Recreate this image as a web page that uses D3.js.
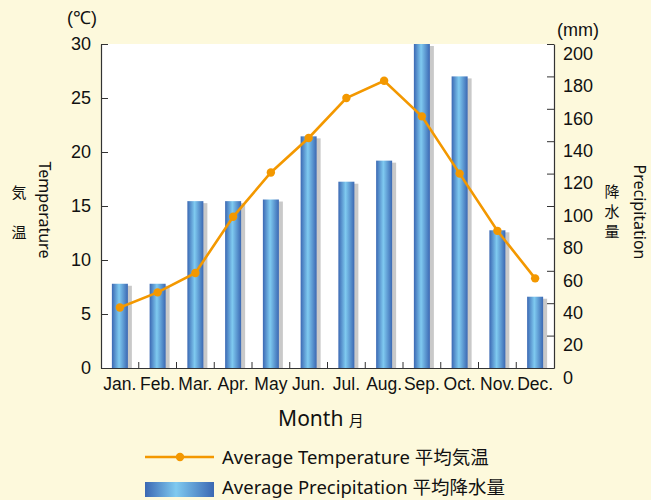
<!DOCTYPE html>
<html>
<head>
<meta charset="utf-8">
<script src="https://cdn.jsdelivr.net/npm/d3@7"></script>
<style>
  body { margin: 0; background: #fdf9dc; }
  svg { display: block; }
</style>
</head>
<body>
<svg id="chart" width="651" height="500"></svg>
<script>
const months = ["Jan.", "Feb.", "Mar.", "Apr.", "May", "Jun.", "Jul.", "Aug.", "Sep.", "Oct.", "Nov.", "Dec."];
const temperature = [5.6, 7.0, 8.8, 14.0, 18.1, 21.3, 25.0, 26.6, 23.3, 18.0, 12.7, 8.3];
const precipitation = [52, 52, 103, 103, 104, 143, 115, 128, 200, 180, 85, 44];
const tempTicks = [0, 5, 10, 15, 20, 25, 30];
const precTicks = [0, 20, 40, 60, 80, 100, 120, 140, 160, 180, 200];

const width = 651, height = 500;
const margin = { top: 44, right: 97, bottom: 132, left: 101 };
const numFont = "'Liberation Sans Narrow', 'Arial Narrow', 'Liberation Sans', sans-serif";
const textFont = "'Noto Sans', 'Noto Sans CJK JP', sans-serif";

const svg = d3.select("#chart");

const x = d3.scaleBand()
  .domain(months)
  .range([margin.left, width - margin.right]);

const yT = d3.scaleLinear().domain([0, 30]).range([height - margin.bottom, margin.top]);
const yP = d3.scaleLinear().domain([0, 200]).range([height - margin.bottom, margin.top]);

// bar gradient
const defs = svg.append("defs");
const grad = defs.append("linearGradient").attr("id", "barGrad")
  .attr("x1", "0%").attr("x2", "100%").attr("y1", "0%").attr("y2", "0%");
grad.append("stop").attr("offset", "0%").attr("stop-color", "#3b68b3");
grad.append("stop").attr("offset", "45%").attr("stop-color", "#7fcaf0");
grad.append("stop").attr("offset", "100%").attr("stop-color", "#3b68b3");

// plot background
svg.append("rect")
  .attr("x", margin.left).attr("y", margin.top)
  .attr("width", width - margin.left - margin.right)
  .attr("height", height - margin.top - margin.bottom)
  .attr("fill", "#fff");

const barW = 16;
const plot = svg.append("g");

plot.selectAll(".shadow")
  .data(precipitation)
  .join("rect")
  .attr("class", "shadow")
  .attr("x", (d, i) => x(months[i]) + x.bandwidth() / 2 - barW / 2 + 4)
  .attr("y", d => Math.max(yP(d) + 2, margin.top + 2))
  .attr("width", barW)
  .attr("height", d => yP(0) - Math.max(yP(d) + 2, margin.top + 2))
  .attr("fill", "#c9c9c9");

plot.selectAll(".bar")
  .data(precipitation)
  .join("rect")
  .attr("class", "bar")
  .attr("x", (d, i) => x(months[i]) + x.bandwidth() / 2 - barW / 2)
  .attr("y", d => yP(d))
  .attr("width", barW)
  .attr("height", d => yP(0) - yP(d))
  .attr("fill", "url(#barGrad)");

// temperature line
const line = d3.line()
  .x((d, i) => x(months[i]) + x.bandwidth() / 2)
  .y(d => yT(d));

plot.append("path")
  .datum(temperature)
  .attr("d", line)
  .attr("fill", "none")
  .attr("stroke", "#f39800")
  .attr("stroke-width", 2.6);

plot.selectAll(".dot")
  .data(temperature)
  .join("circle")
  .attr("cx", (d, i) => x(months[i]) + x.bandwidth() / 2)
  .attr("cy", d => yT(d))
  .attr("r", 4.2)
  .attr("fill", "#f39800");

// axes
const axisColor = "#333";
const yLeft = svg.append("g")
  .attr("transform", `translate(${margin.left},0)`)
  .call(d3.axisLeft(yT).tickValues(tempTicks).tickSizeInner(-7).tickSizeOuter(0).tickPadding(10));
const yRight = svg.append("g")
  .attr("transform", `translate(${width - margin.right},0)`)
  .call(d3.axisRight(yP).tickValues(precTicks).tickSizeInner(-7).tickSizeOuter(0).tickPadding(9));
const xAxis = svg.append("g")
  .attr("transform", `translate(0,${height - margin.bottom})`)
  .call(d3.axisBottom(x).tickSize(0).tickPadding(10));

// inner month separator ticks
svg.append("g").selectAll("line")
  .data(months.slice(1))
  .join("line")
  .attr("x1", d => x(d)).attr("x2", d => x(d))
  .attr("y1", height - margin.bottom).attr("y2", height - margin.bottom - 6)
  .attr("stroke", axisColor);

[yLeft, yRight, xAxis].forEach(g => {
  g.selectAll(".domain").attr("stroke", axisColor).attr("stroke-width", 1.2);
  g.selectAll(".tick line").attr("stroke", axisColor);
  g.selectAll("text").attr("font-family", numFont).attr("font-size", 18).attr("fill", "#111");
});
xAxis.selectAll("text").attr("font-size", 17.5);
yRight.selectAll(".tick text").attr("dy", "0.85em");

// units
svg.append("text").attr("x", 82).attr("y", 24).attr("text-anchor", "middle")
  .attr("font-family", numFont).attr("font-size", 18).attr("fill", "#111").text("(℃)");
svg.append("text").attr("x", 578).attr("y", 36).attr("text-anchor", "middle")
  .attr("font-family", numFont).attr("font-size", 18).attr("fill", "#111").text("(mm)");

// left axis title
svg.append("text")
  .attr("transform", "translate(39,210) rotate(90)")
  .attr("text-anchor", "middle")
  .attr("font-family", textFont).attr("font-size", 16).attr("fill", "#111")
  .text("Temperature");
svg.append("text").attr("x", 19).attr("y", 198).attr("text-anchor", "middle")
  .attr("font-family", textFont).attr("font-size", 15).attr("fill", "#111").text("気");
svg.append("text").attr("x", 19).attr("y", 238).attr("text-anchor", "middle")
  .attr("font-family", textFont).attr("font-size", 15).attr("fill", "#111").text("温");

// right axis title
svg.append("text")
  .attr("transform", "translate(634,212) rotate(90)")
  .attr("text-anchor", "middle")
  .attr("font-family", textFont).attr("font-size", 16).attr("fill", "#111")
  .text("Precipitation");
["降", "水", "量"].forEach((c, i) => {
  svg.append("text").attr("x", 612).attr("y", 197 + i * 20).attr("text-anchor", "middle")
    .attr("font-family", textFont).attr("font-size", 15).attr("fill", "#111").text(c);
});

// x axis title
svg.append("text").attr("x", 321).attr("y", 426).attr("text-anchor", "middle")
  .attr("font-family", textFont).attr("font-size", 21).attr("fill", "#111")
  .text("Month ")
  .append("tspan").attr("font-size", 15).text("月");

// legend
const lg = svg.append("g");
lg.append("line").attr("x1", 145).attr("x2", 214).attr("y1", 457).attr("y2", 457)
  .attr("stroke", "#f39800").attr("stroke-width", 2.6);
lg.append("circle").attr("cx", 180).attr("cy", 457).attr("r", 4.2).attr("fill", "#f39800");
lg.append("text").attr("x", 222).attr("y", 464)
  .attr("font-family", textFont).attr("font-size", 18.5).attr("fill", "#111")
  .text("Average Temperature 平均気温");
lg.append("rect").attr("x", 145).attr("y", 482).attr("width", 69).attr("height", 15)
  .attr("fill", "url(#barGrad)");
lg.append("text").attr("x", 222).attr("y", 494)
  .attr("font-family", textFont).attr("font-size", 18.5).attr("fill", "#111")
  .text("Average Precipitation 平均降水量");
</script>
</body>
</html>
